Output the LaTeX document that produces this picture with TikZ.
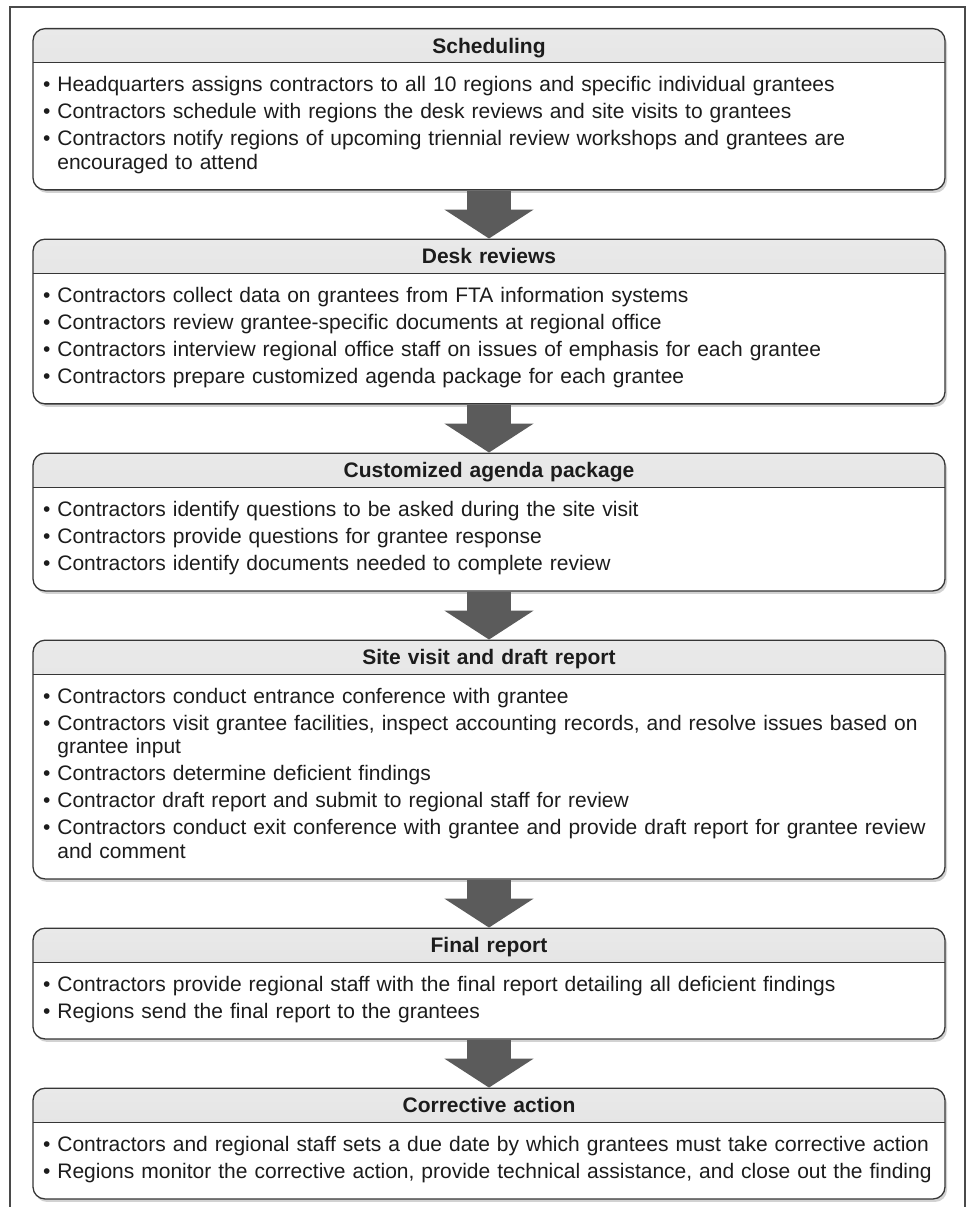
\documentclass[tikz,border=0pt]{standalone}
\usepackage{fontspec}
\setmainfont{Liberation Sans}
\usepackage{tikz}
\usetikzlibrary{arrows.meta,positioning,shadows}
\definecolor{boxline}{HTML}{363636}
\definecolor{arrowgray}{HTML}{5B5B5B}
\definecolor{headtop}{HTML}{E9E9E9}
\definecolor{headbot}{HTML}{DCDCDC}
\definecolor{inkblack}{HTML}{1C1C1C}
\newlength\bulletw
\newcommand\tstrut{\vrule width 0pt height 15pt depth 6.5pt}
% header row of a stage box
\newcommand\stagehead[1]{\noindent\hbox to\linewidth{\hfil\vbox to 34pt{\vskip 9.5pt\hbox{\bfseries\vphantom{H}#1}\vss}\hfil}\par
  \setlength\parskip{3.5pt}\nointerlineskip\vskip 10.5pt}
% one bullet
\newcommand\point[1]{\par\settowidth\bulletw{\textbullet\ }\hangindent=\bulletw\hangafter=1
  \noindent\tstrut\textbullet\ #1\tstrut}
\newcommand\stageend{\par\kern 14pt}
\tikzset{
    %Define standard arrow tip
    >=Triangle,
    %Define style for stage boxes
    stage/.style={
           rectangle,
           rounded corners=12pt,
           draw=boxline, line width=1.3pt,
           fill=white,
           drop shadow={shadow xshift=2pt, shadow yshift=-3pt, opacity=.25, fill=black!70},
           inner xsep=10pt, inner ysep=0pt,
           text width=892pt,
           align=left,
           text=inkblack,
           font=\fontsize{21}{23.5}\selectfont,
           path picture={
             \shade[sharp corners, top color=headtop, bottom color=headbot]
               (path picture bounding box.north west) rectangle
               ([yshift=-34pt]path picture bounding box.north east);
             \draw[sharp corners, boxline, line width=1.1pt]
               ([yshift=-34pt]path picture bounding box.north west) --
               ([yshift=-34pt]path picture bounding box.north east);}},
    % Define arrow style
    flowarrow/.style={
           draw=arrowgray,
           line width=44pt,
           -{Triangle[width=88pt, length=29pt]}},
    frameline/.style={draw=boxline!90, line width=1.2pt}
}

\begin{document}
\begin{tikzpicture}[x=1pt, y=-1pt, node distance=48pt]
\useasboundingbox (0,0) rectangle (972,1207);
\draw[frameline] (10,7) rectangle (965,1240);

 %nodes
\node[stage, anchor=north](sched) at (489,28){\stagehead{Scheduling}
  \point{Headquarters assigns contractors to all 10 regions and specific individual grantees}
  \point{Contractors schedule with regions the desk reviews and site visits to grantees}
  \point{Contractors notify regions of upcoming triennial review workshops and grantees are\newline encouraged to attend}\stageend};
\node[stage, below=of sched](desk){\stagehead{Desk reviews}
  \point{Contractors collect data on grantees from FTA information systems}
  \point{Contractors review grantee-specific documents at regional office}
  \point{Contractors interview regional office staff on issues of emphasis for each grantee}
  \point{Contractors prepare customized agenda package for each grantee}\stageend};
\node[stage, below=of desk](agenda){\stagehead{Customized agenda package}
  \point{Contractors identify questions to be asked during the site visit}
  \point{Contractors provide questions for grantee response}
  \point{Contractors identify documents needed to complete review}\stageend};
\node[stage, below=of agenda](visit){\stagehead{Site visit and draft report}
  \point{Contractors conduct entrance conference with grantee}
  \point{Contractors visit grantee facilities, inspect accounting records, and resolve issues based on\newline grantee input}
  \point{Contractors determine deficient findings}
  \point{Contractor draft report and submit to regional staff for review}
  \point{Contractors conduct exit conference with grantee and provide draft report for grantee review\newline and comment}\stageend};
\node[stage, below=of visit](final){\stagehead{Final report}
  \point{Contractors provide regional staff with the final report detailing all deficient findings}
  \point{Regions send the final report to the grantees}\stageend};
\node[stage, below=of final](corrective){\stagehead{Corrective action}
  \point{Contractors and regional staff sets a due date by which grantees must take corrective action}
  \point{Regions monitor the corrective action, provide technical assistance, and close out the finding}\stageend};

 \path
    (sched) edge[flowarrow] (desk)
    (desk) edge[flowarrow] (agenda)
    (agenda) edge[flowarrow] (visit)
    (visit) edge[flowarrow] (final)
    (final) edge[flowarrow] (corrective);

\end{tikzpicture}
\end{document}
